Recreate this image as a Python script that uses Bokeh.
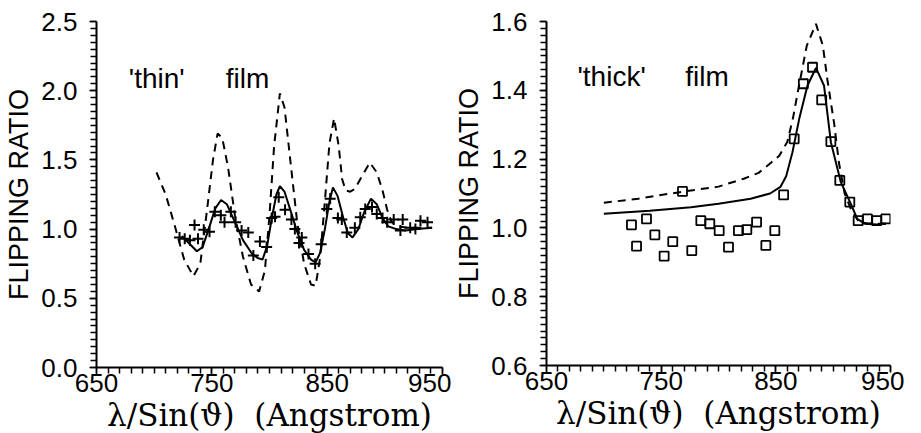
from bokeh.plotting import figure
from bokeh.layouts import row
from bokeh.models import Range1d, FixedTicker, PrintfTickFormatter, Label
from bokeh.embed import file_html
from bokeh.resources import INLINE

# ---------------- 'thin' film (left panel) ----------------
thin_dash_x = [702, 710, 718, 726, 734, 740, 746, 751, 755, 759, 764, 770, 777, 784, 791,
               796, 800, 804, 809, 813, 818, 824, 830, 836, 840, 844, 848, 852, 856, 860,
               863, 866, 870, 874, 880, 887, 893, 898, 902, 906, 912, 920, 930, 941]
thin_dash_y = [1.41, 1.25, 1.02, 0.78, 0.66, 0.75, 1.15, 1.50, 1.69, 1.66, 1.45, 1.10, 0.80, 0.60, 0.55,
               0.70, 1.10, 1.60, 1.98, 1.88, 1.50, 1.05, 0.75, 0.60, 0.59, 0.80, 1.20, 1.62, 1.80, 1.60,
               1.36, 1.28, 1.27, 1.29, 1.38, 1.48, 1.41, 1.28, 1.14, 1.05, 1.02, 1.01, 1.01, 1.01]

thin_fit_x = [724, 730, 737, 742, 748, 753, 758, 763, 770, 777, 785, 790, 794, 798, 802,
              806, 809, 813, 818, 824, 830, 836, 840, 844, 848, 852, 855, 859, 864, 868,
              872, 877, 882, 888, 893, 898, 903, 910, 918, 928, 941]
thin_fit_y = [0.95, 0.90, 0.84, 0.87, 1.02, 1.15, 1.21, 1.18, 1.05, 0.92, 0.82, 0.79, 0.78, 0.88, 1.08,
              1.25, 1.31, 1.27, 1.14, 0.98, 0.85, 0.78, 0.76, 0.83, 1.00, 1.20, 1.30, 1.24, 1.08, 0.97,
              0.94, 1.00, 1.12, 1.22, 1.18, 1.08, 1.02, 1.00, 0.99, 1.00, 1.01]

thin_meas_x = [722, 726.5, 731, 738, 735, 743, 748, 752.6, 757.8, 761, 766.5, 770.6, 775.8, 781.6,
               786, 791.7, 797.5, 801.9, 804.8, 808, 813.5, 819, 822, 825.6, 828, 833.8, 839.6,
               844.8, 849.7, 852.6, 859.3, 862.7, 867, 874, 878.7, 883, 888.9, 893, 898, 902,
               907.7, 913.5, 915.5, 922, 926.5, 930.9, 937]
thin_meas_y = [0.94, 0.93, 0.92, 0.93, 1.03, 0.995, 0.98, 1.125, 1.10, 1.05, 1.125, 1.05, 0.99, 0.975,
               0.81, 0.91, 0.87, 1.08, 1.09, 1.23, 1.14, 1.07, 1.00, 0.90, 0.94, 0.82, 0.75,
               0.89, 1.145, 1.22, 1.08, 1.07, 0.975, 1.01, 1.085, 1.145, 1.16, 1.11, 1.08, 1.05,
               1.07, 0.99, 1.07, 1.01, 1.00, 1.06, 1.05]

# ---------------- 'thick' film (right panel) ----------------
thick_dash_x = [700, 730, 770, 800, 822, 835, 846, 853, 860, 865, 870, 877, 885, 891, 895,
                901, 905, 910, 916, 922, 930, 946]
thick_dash_y = [1.073, 1.085, 1.106, 1.12, 1.143, 1.16, 1.19, 1.21, 1.25, 1.32, 1.41, 1.53, 1.593, 1.53, 1.43,
                1.30, 1.19, 1.10, 1.05, 1.02, 1.012, 1.012]

thick_fit_x = [700, 740, 776, 800, 828, 845, 854, 859, 864.5, 870.4, 877.6, 885, 892, 898,
               906.7, 915.4, 921, 928, 938, 946]
thick_fit_y = [1.041, 1.05, 1.06, 1.07, 1.085, 1.10, 1.119, 1.15, 1.22, 1.317, 1.414, 1.465, 1.414, 1.249,
               1.133, 1.07, 1.026, 1.012, 1.010, 1.012]

thick_meas_x = [724.1, 728.5, 737.2, 744.5, 752.6, 760.1, 768.6, 776.7, 784.6, 792.4, 800.6, 808.7,
                817.4, 824.7, 833.2, 841.3, 849.1, 856.8, 866, 874, 882, 890, 898, 905.8, 914.5,
                921.8, 929.9, 938, 945.9]
thick_meas_y = [1.009, 0.947, 1.026, 0.98, 0.918, 0.96, 1.106, 0.934, 1.021, 1.012, 0.992, 0.944,
                0.992, 0.995, 1.017, 0.949, 0.992, 1.096, 1.259, 1.419, 1.467, 1.372, 1.251, 1.138, 1.075,
                1.021, 1.026, 1.021, 1.026]

x_major = [650, 750, 850, 950]
thin_y_major = [0.0, 0.5, 1.0, 1.5, 2.0, 2.5]
thick_y_major = [0.6, 0.8, 1.0, 1.2, 1.4, 1.6]

SANS = "Liberation Sans"
SERIF = "DejaVu Serif"
XLABEL = "\u03bb/Sin(\u03d1)\u00a0\u00a0(Angstrom)"


def make(yr, ymajor, yminor, fw, fh, bl, br, bt, bb):
    p = figure(frame_width=fw, frame_height=fh, output_backend="svg", toolbar_location=None,
               x_range=Range1d(650, 950), y_range=Range1d(*yr),
               min_border_left=bl, min_border_right=br, min_border_top=bt, min_border_bottom=bb)
    p.outline_line_color = None
    p.grid.visible = False
    p.background_fill_color = "white"
    p.border_fill_color = "white"
    p.xaxis.ticker = FixedTicker(ticks=x_major, minor_ticks=list(range(650, 951, 10)))
    p.yaxis.ticker = FixedTicker(ticks=ymajor, minor_ticks=yminor)
    p.xaxis.formatter = PrintfTickFormatter(format="%d")
    p.yaxis.formatter = PrintfTickFormatter(format="%.1f")
    for ax in (p.xaxis, p.yaxis):
        ax.axis_line_width = 2
        ax.axis_line_color = "black"
        ax.major_tick_line_color = "black"
        ax.minor_tick_line_color = "black"
        ax.major_tick_line_width = 1.5
        ax.minor_tick_line_width = 1.5
        ax.major_tick_in = 0
        ax.minor_tick_in = 0
        ax.major_tick_out = 7
        ax.minor_tick_out = 6
        ax.major_label_text_font = SANS
        ax.major_label_text_color = "black"
        ax.axis_label_text_color = "black"
        ax.axis_label_text_font_style = "normal"
    p.yaxis.major_label_text_font_size = "26px"
    p.xaxis.major_label_text_font_size = "26px"
    p.xaxis.major_label_standoff = -1
    p.yaxis.major_label_standoff = 12
    p.yaxis.axis_label = "FLIPPING RATIO"
    p.yaxis.axis_label_text_font = SANS
    p.yaxis.axis_label_text_font_size = "27px"
    p.yaxis.axis_label_standoff = 4
    p.xaxis.axis_label = XLABEL
    p.xaxis.axis_label_text_font = SERIF
    p.xaxis.axis_label_text_font_size = "31px"
    p.xaxis.axis_label_standoff = 2
    return p


p1 = make((0, 2.5), thin_y_major, [round(0.05 * i, 2) for i in range(51)],
          346, 346, 96, 9, 20, 60)
p1.line(thin_dash_x, thin_dash_y, line_color="black", line_width=2, line_dash="8 6")
p1.line(thin_fit_x, thin_fit_y, line_color="black", line_width=2)
p1.scatter(thin_meas_x, thin_meas_y, marker="cross", size=11, line_color="black", line_width=2)
p1.add_layout(Label(x=678, y=2.087, text="'thin'", text_font=SANS, text_font_size="28px",
                    text_baseline="alphabetic", text_color="black"))
p1.add_layout(Label(x=762, y=2.087, text="film", text_font=SANS, text_font_size="28px",
                    text_baseline="alphabetic", text_color="black"))

p2 = make((0.6, 1.6), thick_y_major, [round(0.6 + 0.02 * i, 2) for i in range(51)],
          344, 344, 92, 14, 21, 61)
p2.line(thick_dash_x, thick_dash_y, line_color="black", line_width=2, line_dash="8 6")
p2.line(thick_fit_x, thick_fit_y, line_color="black", line_width=2)
p2.scatter(thick_meas_x, thick_meas_y, marker="square", size=9, fill_color=None,
           line_color="black", line_width=1.8)
p2.add_layout(Label(x=677, y=1.439, text="'thick'", text_font=SANS, text_font_size="28px",
                    text_baseline="alphabetic", text_color="black"))
p2.add_layout(Label(x=771, y=1.439, text="film", text_font=SANS, text_font_size="28px",
                    text_baseline="alphabetic", text_color="black"))

layout = row(p1, p2)
open("out.html", "w").write(file_html(layout, INLINE))
